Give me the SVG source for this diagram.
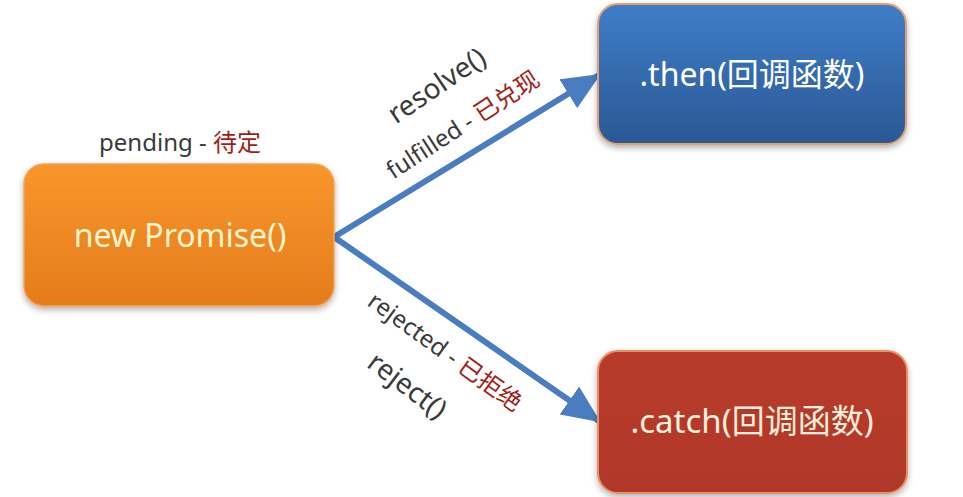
<svg xmlns="http://www.w3.org/2000/svg" width="963" height="497" viewBox="0 0 963 497">
<style>
.lbl{font-family:"Noto Sans","Noto Sans CJK SC",sans-serif;fill:#3a3a3a}
.cn{fill:#a01d16}
.node{font-family:"Noto Sans","Noto Sans CJK SC",sans-serif;text-anchor:middle}
.edge{stroke:#4a7dc0;stroke-width:6;fill:none}
</style>
<defs>
<linearGradient id="gO" x1="0" y1="0" x2="0" y2="1"><stop offset="0" stop-color="#f8962b"/><stop offset="1" stop-color="#e47c1c"/></linearGradient>
<linearGradient id="gB" x1="0" y1="0" x2="0" y2="1"><stop offset="0" stop-color="#3e7ec8"/><stop offset="1" stop-color="#2b5895"/></linearGradient>
<linearGradient id="gR" x1="0" y1="0" x2="0" y2="1"><stop offset="0" stop-color="#b83a29"/><stop offset="1" stop-color="#b0392a"/></linearGradient>
<filter id="sh" x="-10%" y="-10%" width="120%" height="130%"><feDropShadow dx="0" dy="3" stdDeviation="3" flood-color="#000" flood-opacity="0.3"/></filter>
<marker id="ah" markerUnits="userSpaceOnUse" markerWidth="38" markerHeight="34" viewBox="0 0 38 34" refX="36" refY="17" orient="auto"><path d="M0,0 L38,17 L0,34 Z" fill="#4a7dc0"/></marker>
</defs>
<rect width="963" height="497" fill="#ffffff"/>
<g id="connectors">
<path class="edge" d="M334,237 L599,75" marker-end="url(#ah)"/>
<path class="edge" d="M334,237 L599,421" marker-end="url(#ah)"/>
<text class="lbl" font-size="28" text-anchor="middle" transform="translate(437,86) rotate(-34)" y="9">resolve()</text>
<text class="lbl" font-size="24" text-anchor="middle" transform="translate(463,125) rotate(-33)" y="8">fulfilled -  <tspan class="cn">已兑现</tspan></text>
<text class="lbl" font-size="24" text-anchor="middle" transform="translate(445,352) rotate(36)" y="8">rejected - <tspan class="cn">已拒绝</tspan></text>
<text class="lbl" font-size="28" text-anchor="middle" transform="translate(407,386) rotate(37)" y="9">reject()</text>
</g>
<g id="promise">
<text class="lbl" font-size="24" x="180" y="151" text-anchor="middle">pending -  <tspan class="cn">待定</tspan></text>
<rect x="24" y="164" width="310" height="142" rx="20" fill="url(#gO)" stroke="#f2a55a" stroke-width="1.5" filter="url(#sh)"/>
<text class="node" x="180" y="247" font-size="32" fill="#fdf5cf">new Promise()</text>
</g>
<g id="then">
<rect x="598" y="4" width="308" height="140" rx="20" fill="url(#gB)" stroke="#e0a070" stroke-width="2" filter="url(#sh)"/>
<text class="node" x="752" y="86" font-size="32" fill="#ffffff">.then(回调函数)</text>
</g>
<g id="catch">
<rect x="598" y="351" width="309" height="142" rx="20" fill="url(#gR)" stroke="#e89060" stroke-width="2" filter="url(#sh)"/>
<text class="node" x="752" y="433" font-size="33" fill="#fdf0dc">.catch(回调函数)</text>
</g>
</svg>
